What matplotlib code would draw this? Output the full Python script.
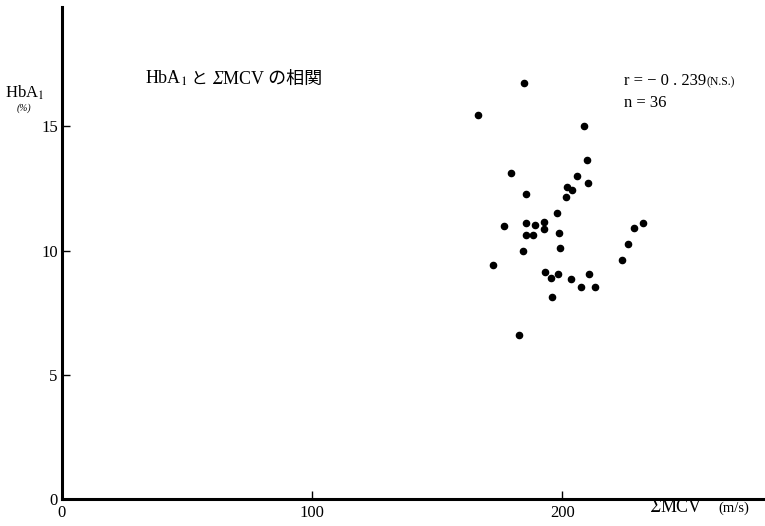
import matplotlib.pyplot as plt
from matplotlib.offsetbox import TextArea, HPacker, AnchoredOffsetbox, DrawingArea

plt.rcParams['font.family'] = ['Liberation Serif', 'Noto Sans CJK JP', 'DejaVu Sans']
plt.rcParams['mathtext.fontset'] = 'stix'

# ΣMCV (m/s) と HbA1 (%) の値
mcv = [184.8, 166.3, 208.8, 209.9, 179.3, 206.0, 210.4, 201.9, 203.9, 185.6,
       201.6, 197.9, 176.7, 185.6, 188.9, 192.8, 192.5, 185.3, 188.3, 198.8,
       199.1, 184.4, 232.4, 228.7, 226.4, 223.9, 172.3, 192.9, 195.6, 198.4,
       203.6, 210.7, 207.3, 213.0, 196.0, 182.5]
hba1 = [16.73, 15.46, 15.01, 13.64, 13.12, 12.98, 12.71, 12.54, 12.43, 12.27,
        12.14, 11.50, 11.00, 11.10, 11.02, 11.16, 10.87, 10.62, 10.63, 10.70,
        10.09, 9.97, 11.12, 10.90, 10.28, 9.61, 9.41, 9.14, 8.88, 9.05,
        8.84, 9.06, 8.54, 8.55, 8.15, 6.61]

x_ticks = [0, 100, 200]
y_ticks = [0, 5, 10, 15]

fig = plt.figure(figsize=(7.65, 5.26), dpi=100)
ax = fig.add_axes([0.081, 0.051, 0.919, 0.936])

ax.scatter(mcv, hba1, s=20, color='black', zorder=3)

ax.set_xlim(0, 281)
ax.set_ylim(0, 19.8)
ax.set_xticks(x_ticks)
ax.set_yticks(y_ticks)
ax.set_xticklabels([str(v) for v in x_ticks], fontsize=12)
ax.set_yticklabels([str(v) for v in y_ticks], fontsize=12)
ax.tick_params(axis='both', direction='in', length=6, width=1, pad=3)
ax.tick_params(axis='x', pad=4)

for s in ['top', 'right']:
    ax.spines[s].set_visible(False)
ax.spines['left'].set_linewidth(2.2)
ax.spines['bottom'].set_linewidth(2.2)


def put_row(parts, xy):
    # テキストを横に並べて置く
    row = HPacker(children=parts, align='baseline', pad=0, sep=0)
    box = AnchoredOffsetbox(loc='lower left', child=row, pad=0, frameon=False,
                            bbox_to_anchor=xy, bbox_transform=ax.transAxes,
                            borderpad=0)
    ax.add_artist(box)


# タイトル
put_row([
    TextArea('HbA$_1$', textprops=dict(fontsize=13)),
    TextArea(' と ', textprops=dict(fontsize=12)),
    TextArea('Σ', textprops=dict(fontsize=13, style='italic')),
    TextArea('MCV の相関', textprops=dict(fontsize=13)),
], (0.118, 0.835))

# 相関係数
put_row([
    TextArea('r = − 0 . 239', textprops=dict(fontsize=12)),
    TextArea('(N.S.)', textprops=dict(fontsize=8.5)),
], (0.80, 0.833))
ax.text(0.80, 0.797, 'n = 36', transform=ax.transAxes, fontsize=12)

fig.text(0.006, 0.815, r'HbA$_1$', fontsize=12)
fig.text(0.022, 0.789, '(%)', fontsize=7, style='italic')

# x軸ラベル
put_row([
    TextArea('Σ', textprops=dict(fontsize=13, style='italic')),
    TextArea('MCV', textprops=dict(fontsize=13)),
    DrawingArea(12, 1),
    TextArea('(m/s)', textprops=dict(fontsize=10.5)),
], (0.836, -0.034))

fig.savefig('out.png', dpi=100)
